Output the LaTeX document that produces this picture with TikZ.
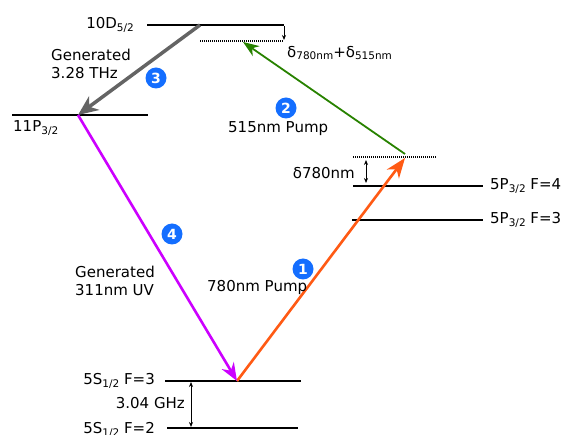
\documentclass[tikz,border=0pt]{standalone}
\usepackage{fontspec}
\setmainfont{DejaVu Sans}
\usetikzlibrary{arrows.meta}
\newcommand{\lsub}[1]{\raisebox{-0.35ex}{\fontsize{10.5}{10.5}\selectfont #1}}
\definecolor{cOrange}{RGB}{255,90,20}
\definecolor{cMagenta}{RGB}{204,0,255}
\definecolor{cGreen}{RGB}{40,130,0}
\definecolor{cGray}{RGB}{100,100,100}
\definecolor{cBlue}{RGB}{20,110,255}
\begin{document}
\begin{tikzpicture}[x=1pt,y=-1pt,
  font=\fontsize{15}{17.5}\selectfont,
  level/.style={line width=1.8pt},
  virt/.style={line width=1.2pt, dash pattern=on 1pt off 1pt},
  lbl/.style={inner sep=0pt},
  badge/.style={circle, fill=cBlue, text=white, inner sep=0pt, minimum size=21pt, font=\bfseries\fontsize{14}{14}\selectfont},
  gap/.style={line width=0.8pt, {Stealth[length=5pt,width=4pt]}-{Stealth[length=5pt,width=4pt]}},
  gapone/.style={line width=0.8pt, -{Stealth[length=5pt,width=4pt]}}
]
\useasboundingbox (0,0) rectangle (565,435);

% levels
\coordinate (Dl) at (147,25);  \coordinate (Dr) at (284,25);
\coordinate (Vl) at (200,41);  \coordinate (Vr) at (284,41);
\coordinate (Pl) at (12,115);  \coordinate (Pr) at (148,115);
\coordinate (Il) at (353,157); \coordinate (Ir) at (437,157);
\coordinate (F4l) at (353,186); \coordinate (F4r) at (483,186);
\coordinate (F3l) at (352,220); \coordinate (F3r) at (483,220);
\coordinate (S3l) at (165,381); \coordinate (S3r) at (301,381);
\coordinate (S2l) at (167,428); \coordinate (S2r) at (298,428);

\draw[level] (Dl) -- (Dr);
\draw[level] (Pl) -- (Pr);
\draw[level] (F4l) -- (F4r);
\draw[level] (F3l) -- (F3r);
\draw[level] (S3l) -- (S3r);
\draw[level] (S2l) -- (S2r);
\draw[virt] (Vl) -- (Vr);
\draw[virt] (Il) -- (Ir);

% detuning arrows
\coordinate (dA) at (284,26); \coordinate (dB) at (284,40);
\draw[gapone] (dA) -- (dB);
\coordinate (eA) at (366,160); \coordinate (eB) at (366,183);
\draw[gap] (eA) -- (eB);
\coordinate (hA) at (191,382); \coordinate (hB) at (191,427);
\draw[gap] (hA) -- (hB);

% transition arrows
\coordinate (g0) at (200,25);
\coordinate (g1) at (78,115);
\coordinate (m1) at (237,381);
\coordinate (o1) at (405,158);
\coordinate (gr0) at (405,154);
\coordinate (gr1) at (243,42);

\draw[cOrange, line width=2.6pt, -{Stealth[length=20pt,width=15pt,inset=6pt]}] (m1) -- (o1);
\draw[cGreen, line width=1.8pt, -{Stealth[length=16pt,width=12pt,inset=5pt]}] (gr0) -- (gr1);
\draw[cGray, line width=3.5pt, -{Stealth[length=20pt,width=17pt,inset=6pt]}] (g0) -- (g1);
\draw[cMagenta, line width=2.6pt, -{Stealth[length=18pt,width=14pt,inset=6pt]}] (g1) -- (m1);

% labels
\node[lbl, anchor=east] (tD) at (134,25) {10D\lsub{5/2}};
\node[lbl, anchor=west] (tdel) at (287,53) {δ\lsub{780nm}+δ\lsub{515nm}};
\node[lbl, anchor=west, align=left] (tgen1) at (51,64) {Generated\\3.28 THz};
\node[lbl, anchor=west] (tP) at (13,128) {11P\lsub{3/2}};
\node[lbl, anchor=west] (t515) at (228,129) {515nm Pump};
\node[lbl, anchor=east] (tdel2) at (355,173) {δ780nm};
\node[lbl, anchor=west] (tF4) at (490,186) {5P\lsub{3/2} F=4};
\node[lbl, anchor=west] (tF3) at (490,220) {5P\lsub{3/2} F=3};
\node[lbl, anchor=west, align=left] (tgen2) at (75,281) {Generated\\311nm UV};
\node[lbl, anchor=west] (t780) at (207,287) {780nm Pump};
\node[lbl, anchor=east] (tS3) at (155,381) {5S\lsub{1/2} F=3};
\node[lbl, anchor=east] (tGHz) at (185,403) {3.04 GHz};
\node[lbl, anchor=east] (tS2) at (155,430) {5S\lsub{1/2} F=2};

% badges
\node[badge] (b1) at (303,269) {1};
\node[badge] (b2) at (286,108) {2};
\node[badge] (b3) at (156,78) {3};
\node[badge] (b4) at (172,234) {4};
\end{tikzpicture}
\end{document}
